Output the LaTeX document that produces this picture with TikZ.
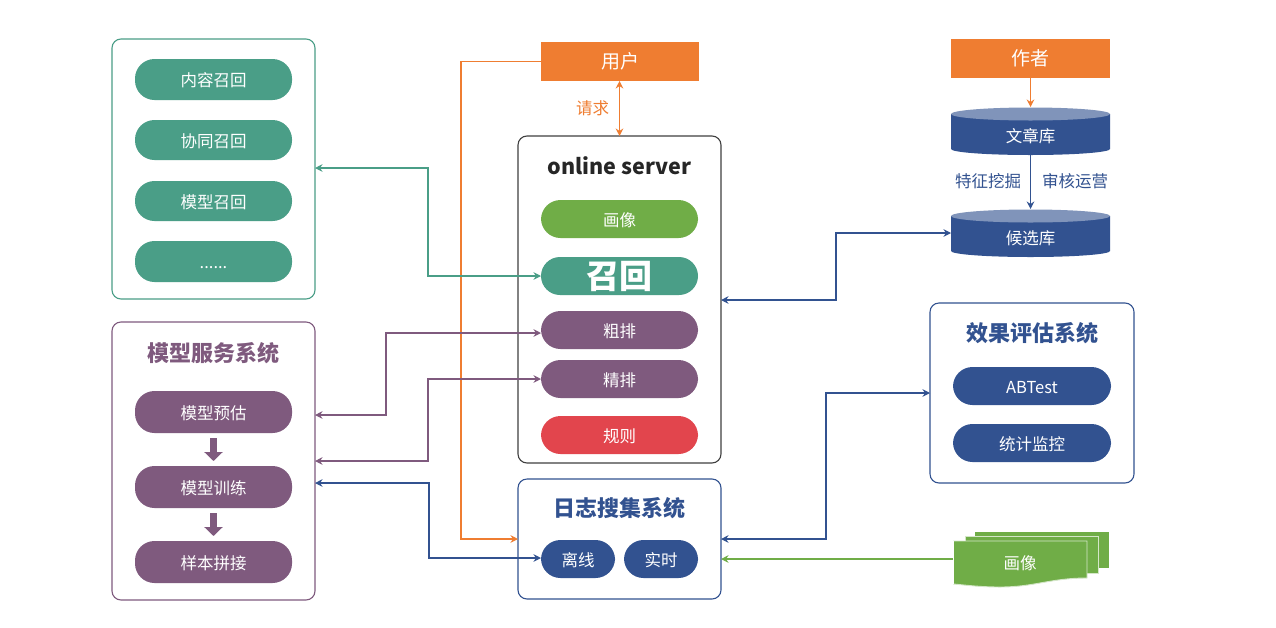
\documentclass[tikz,border=0pt]{standalone}
\usepackage{fontspec}
\setmainfont{Noto Sans CJK SC}
\usetikzlibrary{arrows.meta}
\definecolor{tealc}{HTML}{4A9E87}
\definecolor{purplec}{HTML}{7F5A7E}
\definecolor{navyc}{HTML}{325290}
\definecolor{orangec}{HTML}{EF7D31}
\definecolor{greenc}{HTML}{70AD47}
\definecolor{redc}{HTML}{E2454D}
\definecolor{graybox}{HTML}{404040}
\newcommand{\fs}[1]{\fontsize{#1}{#1}\selectfont}
\tikzset{
  x=1pt,y=-1pt,
  panel/.style={draw=#1,line width=1.1pt,rounded corners=9pt,fill=white,inner sep=0pt,outer sep=0pt},
  pill/.style={fill=#1,rounded corners=19.5pt,text=white,inner sep=0pt,outer sep=0pt,font=\fs{16.5},text height=16pt,text depth=1.5pt},
  banner/.style={fill=orangec,text=white,inner sep=0pt,outer sep=0pt,font=\fs{19}},
  title/.style={font=\bfseries\fs{22},text=#1,inner sep=0pt},
  cap/.style={font=\fs{16.5},text=#1,inner sep=0pt},
  tip/.style={{Stealth[length=7.5pt,width=7.5pt,inset=2.5pt]}-{Stealth[length=7.5pt,width=7.5pt,inset=2.5pt]}},
  onetip/.style={-{Stealth[length=7.5pt,width=7.5pt,inset=2.5pt]}},
  link/.style={draw=#1,line width=1.15pt},
  flowarrow/.style={draw=purplec,line width=7pt,-{Triangle[length=9pt,width=18pt]},shorten >=5pt,shorten <=5pt},
}
% Place a node by its pixel corners: style, name, left, top, right, bottom, text
\newcommand{\boxat}[7]{%
  \node[#1,minimum width=#5-#3,minimum height=#6-#4,anchor=north west] (#2) at (#3,#4) {#7};}
% Disk symbol with a lighter top face: name, top, text
\newcommand{\disk}[3]{%
  \fill[navyc] (951,#2+7) -- (951,#2+42) arc[x radius=79.5,y radius=6,start angle=180,end angle=0] -- (1110,#2+7) -- cycle;
  \fill[navyc!60!white!95!navyc] (1030.5,#2+7) ellipse[x radius=79.5,y radius=6.5];
  \coordinate (#1) at (1030.5,#2+24);
  \coordinate (#1top) at (1030.5,#2);
  \coordinate (#1bottom) at (1030.5,#2+48);
  \coordinate (#1west) at (951,#2+24);
  \node[text=white,font=\fs{16.5},inner sep=0pt] (#1text) at (1030.5,#2+29) {#3};}
\begin{document}
\begin{tikzpicture}
\useasboundingbox (0,0) rectangle (1276,627);
\fill[white] (0,0) rectangle (1276,627);

% Recall panel
\boxat{panel=tealc}{recallset}{112}{39}{315}{299}{}
\boxat{pill=tealc}{ra}{135}{59}{292}{100}{内容召回}
\boxat{pill=tealc}{rb}{135}{120}{292}{160}{协同召回}
\boxat{pill=tealc}{rc}{135}{181}{292}{221}{模型召回}
\boxat{pill=tealc}{rd}{135}{241}{292}{282}{......}

% Model service panel
\boxat{panel=purplec}{modelset}{112}{322}{315}{600}{}
\node[title=purplec] (modeltitle) at (213.5,353) {模型服务系统};
\boxat{pill=purplec}{ma}{135}{391}{292}{433}{模型预估}
\boxat{pill=purplec}{mb}{135}{466}{292}{508}{模型训练}
\boxat{pill=purplec}{mc}{135}{541}{292}{583}{样本拼接}
\draw[flowarrow] (ma) -- (mb);
\draw[flowarrow] (mb) -- (mc);

% Online server panel
\boxat{panel=graybox}{online}{518}{136}{721}{463}{}
\node[font=\bfseries\fs{21.5},text=black!85,inner sep=0pt] (onlinetitle) at (619.5,166) {online server};
\boxat{pill=greenc}{oa}{541}{200}{698}{238}{画像}
\node[fill=tealc,rounded corners=19pt,minimum width=157,minimum height=38,inner sep=0pt,outer sep=0pt,anchor=north west,text=white,font=\bfseries\fs{33}] (ob) at (541,257) {召回};
\boxat{pill=purplec}{oc}{541}{311}{698}{349}{粗排}
\boxat{pill=purplec}{od}{541}{360}{698}{398}{精排}
\boxat{pill=redc}{oe}{541}{416}{698}{454}{规则}

% Log collection panel
\boxat{panel=navyc}{logset}{518}{479}{721}{599}{}
\node[title=navyc] (logtitle) at (619.5,508) {日志搜集系统};
\boxat{pill=navyc}{la}{541}{540}{615}{578}{离线}
\boxat{pill=navyc}{lb}{624}{540}{698}{578}{实时}

% Evaluation panel
\boxat{panel=navyc}{evalset}{930}{303}{1134}{483}{}
\node[title=navyc] (evaltitle) at (1032,333) {效果评估系统};
\boxat{pill=navyc}{ea}{953}{367}{1111}{405}{ABTest}
\boxat{pill=navyc}{eb}{953}{424}{1111}{462}{统计监控}

% User and author banners
\boxat{banner}{user}{541}{42}{699}{81}{用户}
\boxat{banner}{author}{951}{39}{1110}{78}{作者}
\node[cap=orangec] (reqlabel) at (592.5,108) {请求};

% Article stores
\disk{docs}{107}{文章库}
\disk{cands}{209}{候选库}
\node[cap=navyc] (minelabel) at (988,181) {特征挖掘};
\node[cap=navyc] (auditlabel) at (1075,181) {审核运营};

% Stacked document sheets
\fill[greenc] (975,532) -- (1109,532) -- (1109,568) -- (975,568) -- cycle;
\fill[greenc,draw=white!70!greenc,line width=0.9pt] (965,536) -- (1098,536) -- (1098,573) -- (965,573) -- cycle;
\fill[greenc,draw=white!70!greenc,line width=0.9pt] (953.5,541) -- (1087,541) -- (1087,578) .. controls (1050,578) and (1035,587) .. (1000,587) .. controls (980,587) and (965,585) .. (953.5,584) -- cycle;
\draw[draw=white,line width=1pt] (953.5,541) -- (953.5,584);
\node[minimum width=134,minimum height=45,inner sep=0pt,outer sep=0pt,anchor=north west,text=white,font=\fs{16.5}] (sheet) at (953,541) {画像};

% Ports on panel edges where connectors attach
\coordinate (pRecall) at (recallset.east |- 0,168);
\coordinate (pModelA) at (modelset.east |- 0,415);
\coordinate (pModelB) at (modelset.east |- 0,461);
\coordinate (pModelC) at (modelset.east |- 0,483);
\coordinate (pCoarse) at (oc.west |- 0,333);
\coordinate (pFine) at (od.west |- 0,379);
\coordinate (pOffline) at (la.west |- 0,558);
\coordinate (pOnlineE) at (online.east |- 0,300);
\coordinate (pCands) at (candswest |- 0,233);
\coordinate (pLogIn) at (logset.west |- 0,539);
\coordinate (pLogE) at (logset.east |- 0,539);
\coordinate (pLogF) at (logset.east |- 0,559);
\coordinate (pEval) at (evalset.west |- 0,393);
\coordinate (pSheet) at (sheet.west |- 0,559);

% Connectors
\draw[link=orangec,onetip] (user.west) -- (461,61.5) -- (461,539) -- (pLogIn);
\draw[link=orangec,tip] (user.south -| 619.5,0) -- (online.north -| 619.5,0);
\draw[link=tealc,tip] (pRecall) -- (428,168) -- (428,276) -- (ob.west);
\draw[link=purplec,tip] (pModelA) -- (386,415) -- (386,333) -- (pCoarse);
\draw[link=purplec,tip] (pModelB) -- (428,461) -- (428,379) -- (pFine);
\draw[link=navyc,tip] (pModelC) -- (429,483) -- (429,558) -- (pOffline);
\draw[link=navyc,tip] (pOnlineE) -- (836,300) -- (836,233) -- (pCands);
\draw[link=navyc,tip] (pLogE) -- (826,539) -- (826,393) -- (pEval);
\draw[link=greenc,onetip] (pSheet) -- (pLogF);
\draw[link=orangec,onetip] (author) -- (docstop);
\draw[link=navyc,onetip] (docsbottom) -- (candstop);
\end{tikzpicture}
\end{document}
